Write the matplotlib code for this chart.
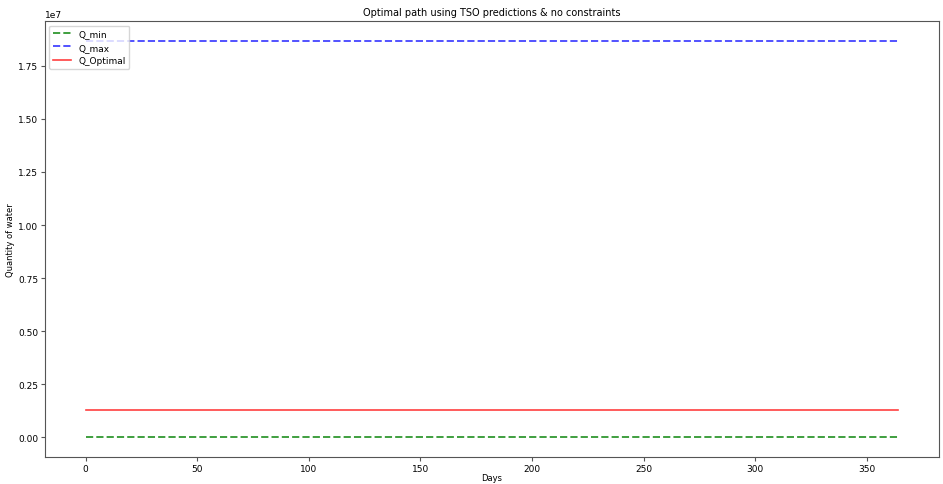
import matplotlib
matplotlib.use("Agg")
import matplotlib.pyplot as plt

# Planning horizon (first and last day) and the level of each series
days = [0, 364]
q_min = [0.0, 0.0]
q_max = [1.868e7, 1.868e7]
q_optimal = [1.28e6, 1.28e6]

plt.rcParams["font.family"] = "DejaVu Sans"
plt.rcParams["font.size"] = 6.5

fig = plt.figure(figsize=(9.43, 4.85), dpi=100)
ax = fig.add_axes([0.0477, 0.0556, 0.9477, 0.899])

ax.plot(days, q_min, linestyle="--", color="#3f9f3f", linewidth=1.4, label="Q_min")
ax.plot(days, q_max, linestyle="--", color="#5252ff", linewidth=1.4, label="Q_max")
ax.plot(days, q_optimal, linestyle="-", color="#ff4040", linewidth=1.2, label="Q_Optimal")

ax.set_title("Optimal path using TSO predictions & no constraints", fontsize=7, pad=4)
ax.set_xlabel("Days", fontsize=6, labelpad=0)
ax.set_ylabel("Quantity of water", fontsize=6, labelpad=2)
ax.set_xticks([0, 50, 100, 150, 200, 250, 300, 350])
ax.set_yticks([0, 0.25e7, 0.5e7, 0.75e7, 1.0e7, 1.25e7, 1.5e7, 1.75e7])
ax.tick_params(labelsize=6.5, color="#555555", length=3, pad=2)
ax.yaxis.get_offset_text().set_fontsize(6.5)
for s in ax.spines.values():
    s.set_color("#555555")

ax.legend(loc="upper left", fontsize=6.5)

fig.savefig("out.png", dpi=100)
